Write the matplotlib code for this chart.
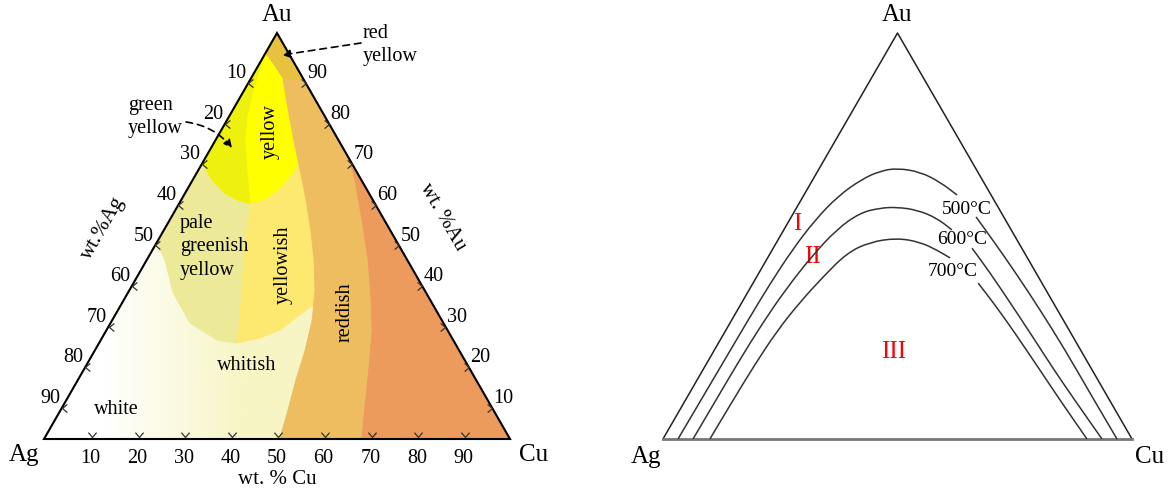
import numpy as np
import matplotlib.pyplot as plt
from matplotlib.patches import Polygon, PathPatch
from matplotlib.path import Path

plt.rcParams['font.family'] = ['Liberation Serif', 'DejaVu Serif']

# ---------------- left: colour of Ag-Au-Cu alloys, points as (wt.% Cu, wt.% Au)
reddish_cu = [7.1, 11.9, 16.8, 21.8, 26.8, 31.5, 35.9, 39.8, 42.9, 45.1, 46.8, 48.8, 50.6]
reddish_au = [88.4, 81.0, 73.6, 66.3, 58.9, 51.5, 44.1, 36.7, 29.3, 21.9, 14.5, 7.1, 0]
copper_cu = [31.3, 34.8, 41.3, 47.5, 53.1, 57.0, 61.2, 64.7, 68.2]
copper_au = [68.7, 63.8, 53.9, 44.1, 34.2, 26.8, 17.0, 8.4, 0]
redyel_cu = [0, 3.5, 6.8, 11.6]
redyel_au = [95.1, 92.0, 88.9, 88.4]
yellow_bot_cu = [0, 4.15, 8.5, 12.8, 15.15, 17.9, 19.7, 20.5, 20.6]
yellow_bot_au = [68.0, 63.8, 60.6, 58.6, 58.1, 59.1, 61.8, 65.5, 68.7]
greenyel_cu = [15.15, 10.4, 6.3, 3.7, 2.3, 1.05, 0]
greenyel_au = [58.1, 66.3, 73.6, 79.8, 84.7, 89.7, 94.6]
pale_bot_cu = [0, 3.9, 9.7, 17.0, 24.9, 29.6]
pale_bot_au = [48.3, 44.1, 36.0, 28.6, 24.4, 23.6]
split_cu = [29.6, 25.0, 20.65, 17.6, 15.15]
split_au = [23.6, 34.2, 44.1, 51.5, 58.1]
yelwish_bot_cu = [29.6, 33.9, 37.2, 40.85]
yelwish_bot_au = [23.6, 24.9, 26.8, 32.5]

tick_vals = [10, 20, 30, 40, 50, 60, 70, 80, 90]

# ---------------- right: miscibility gap boundaries (wt.% Cu, wt.% Au)
c500_l_cu = [3.2, 3.3, 3.4, 3.5, 3.7, 4.3, 5.45, 7.4, 10.4, 13.3, 16.55, 21.9, 27.4, 32.65]
c500_l_au = [0, 9.6, 19.2, 28.8, 38.2, 46.8, 53.9, 59.85, 64.0, 66.0, 66.7, 65.8, 63.3, 60.1]
c500_r_cu = [39.4, 46.6, 55.3, 64.5, 74.8, 85.9, 96.8]
c500_r_au = [54.7, 48.3, 40.4, 31.8, 21.9, 10.8, 0]
c600_l_cu = [6.4, 6.5, 6.6, 6.95, 7.75, 9.25, 11.25, 14.15, 17.85, 21.35, 26.0, 31.2, 35.85]
c600_l_au = [0, 9.6, 19.2, 28.3, 36.9, 45.1, 51.7, 55.7, 56.9, 57.1, 56.4, 54.4, 51.5]
c600_r_cu = [42.4, 49.3, 57.1, 66.0, 75.2, 84.3, 93.6]
c600_r_au = [47.0, 40.9, 33.7, 25.4, 16.7, 8.4, 0]
c700_l_cu = [10.0, 10.15, 10.4, 11.0, 12.35, 14.15, 16.3, 19.85, 25.15, 30.55, 35.1, 38.9]
c700_l_au = [0, 9.1, 18.0, 26.6, 33.7, 39.9, 45.8, 48.5, 49.5, 48.5, 46.55, 44.6]
c700_r_cu = [48.0, 54.3, 62.0, 71.1, 80.6, 90.4]
c700_r_au = [38.4, 33.0, 26.1, 17.7, 8.9, 0]


def tern(cu, au):
    cu = np.atleast_1d(np.asarray(cu, float))
    au = np.atleast_1d(np.asarray(au, float))
    return cu + au / 2, au


def region(ax, cu, au, color, z):
    x, y = tern(cu, au)
    ax.add_patch(Polygon(np.column_stack([x, y]), closed=True, fc=color, ec=color,
                         lw=0.6, zorder=z))


def smooth_line(ax, cu, au, **kw):
    # quadratic pieces through the mid points, so the drawn line has no corners
    x, y = tern(cu, au)
    p = np.column_stack([x, y])
    verts = [p[0], (p[0] + p[1]) / 2]
    codes = [Path.MOVETO, Path.LINETO]
    for i in range(1, len(p) - 1):
        verts += [p[i], (p[i] + p[i + 1]) / 2]
        codes += [Path.CURVE3, Path.CURVE3]
    verts.append(p[-1])
    codes.append(Path.LINETO)
    ax.add_patch(PathPatch(Path(verts, codes), fill=False, **kw))


def chev(angle, spread=40):
    a = np.deg2rad(angle + 180)
    s = np.deg2rad(spread)
    v = [(np.cos(a - s), np.sin(a - s)), (0, 0), (np.cos(a + s), np.sin(a + s))]
    return Path(v, [Path.MOVETO, Path.LINETO, Path.LINETO])


# pixel -> data helpers for text placement
def L(x, y):
    return (x - 44) / 4.66, (439 - y) / 4.06


def R(x, y):
    return (x - 663) / 4.69, (439 - y) / 4.06


fig = plt.figure(figsize=(11.72, 4.91), dpi=100)
ax1 = fig.add_axes([0, 0, 0.5, 1])
ax2 = fig.add_axes([0.5, 0, 0.5, 1])

# ================= left panel
tx, ty = tern([0, 100, 0], [0, 0, 100])
tri = np.column_stack([tx, ty])

ramp = np.clip((np.linspace(0, 100, 400) - 13) / 30, 0, 1)
c0 = np.array([1.0, 1.0, 1.0])
c1 = np.array([247, 245, 196]) / 255
img = (c0 + ramp[:, None] * (c1 - c0))[None, :, :]
im = ax1.imshow(img, extent=[0, 100, 0, 100], aspect='auto', zorder=1,
                interpolation='bilinear')
im.set_clip_path(Polygon(tri, closed=True, transform=ax1.transData))

# yellowish
region(ax1,
       yellow_bot_cu[4:] + [30, 44] + yelwish_bot_cu[::-1] + split_cu[1:4],
       yellow_bot_au[4:] + [66, 33] + yelwish_bot_au[::-1] + split_au[1:4],
       '#FDE96F', 2)
# pale greenish yellow
region(ax1,
       [0] + pale_bot_cu + split_cu[1:] + yellow_bot_cu[1:4][::-1],
       [68.0] + pale_bot_au + split_au[1:] + yellow_bot_au[1:4][::-1],
       '#ECEA98', 2)
# yellow
region(ax1, [0] + yellow_bot_cu + [31.3, 5],
       [95.1] + yellow_bot_au + [68.7, 95], '#FFFF00', 2.2)
# green yellow
region(ax1, [0] + yellow_bot_cu[:5] + greenyel_cu[1:],
       [94.6] + yellow_bot_au[:5] + greenyel_au[1:], '#EEF00E', 2.3)
# reddish
region(ax1, reddish_cu + [100, 5], reddish_au + [0, 95], '#EEBD5F', 3)
# copper red
region(ax1, copper_cu + [100], copper_au + [0], '#EC9B5C', 3.1)
# red yellow
region(ax1, [0] + redyel_cu, [100] + redyel_au, '#E8C23F', 3.2)

ax1.add_patch(Polygon(tri, closed=True, fill=False, ec='black', lw=1.5, zorder=5))

tv = np.array(tick_vals, float)
mk = dict(ls='none', ms=7, mfc='none', mec='#333333', mew=0.9, zorder=6)
x, y = tern(tv, np.full(9, 0.6))
ax1.plot(x, y, marker=chev(-90), **mk)
x, y = tern(np.zeros(9), 100 - tv - 2.3)
ax1.plot(x, y, marker=chev(180), **mk)
x, y = tern(100 - (tv - 2.3), tv - 2.3)
ax1.plot(x, y, marker=chev(0), **mk)

fs = 14.5
for v in tick_vals:
    ax1.text(v, -4.9, str(v), ha='center', va='center', fontsize=fs)
    ax1.text((100 - v) / 2 - 1.5, 100 - v, str(v), ha='right', va='center', fontsize=fs)
    ax1.text(100 - v / 2 + 1.5, v, str(v), ha='left', va='center', fontsize=fs)

ax1.text(*L(277, 15), 'Au', ha='center', va='center', fontsize=18)
ax1.text(*L(24, 455), 'Ag', ha='center', va='center', fontsize=18)
ax1.text(*L(534, 455), 'Cu', ha='center', va='center', fontsize=18)
ax1.text(*L(277, 480), 'wt. % Cu', ha='center', va='center', fontsize=15)
ax1.text(*L(103, 228), 'wt.%Ag', ha='center', va='center', fontsize=15, rotation=60)
ax1.text(*L(443, 217), 'wt. %Au', ha='center', va='center', fontsize=15, rotation=-60)

ls = 1.35
ax1.text(*L(270, 132), 'yellow', ha='center', va='center', fontsize=fs, rotation=90)
ax1.text(*L(283, 265), 'yellowish', ha='center', va='center', fontsize=fs, rotation=90)
ax1.text(*L(345, 312), 'reddish', ha='center', va='center', fontsize=fs, rotation=90)
ax1.text(*L(247, 366), 'whitish', ha='center', va='center', fontsize=fs)
ax1.text(*L(116, 409), 'white', ha='center', va='center', fontsize=fs)
ax1.text(*L(180, 247), 'pale\ngreenish\nyellow', ha='left', va='center', fontsize=fs,
         linespacing=ls)
ax1.text(*L(396, 384), 'copper\nred', ha='left', va='center', fontsize=fs, linespacing=ls)
ax1.text(*L(128, 117), 'green\nyellow', ha='left', va='center', fontsize=fs, linespacing=ls)
ax1.text(*L(363, 45), 'red\nyellow', ha='left', va='center', fontsize=fs, linespacing=ls)

ax1.annotate('', xy=L(282, 55), xytext=L(361, 43),
             arrowprops=dict(arrowstyle='-|>', color='black', lw=1.2, ls=(0, (4, 3)),
                             mutation_scale=12, shrinkA=0, shrinkB=0), zorder=7)
ax1.annotate('', xy=L(232, 148), xytext=L(186, 122),
             arrowprops=dict(arrowstyle='-|>', color='black', lw=1.2, ls=(0, (4, 3)),
                             mutation_scale=12, shrinkA=0, shrinkB=0,
                             connectionstyle='arc3,rad=-0.2'), zorder=7)

ax1.set_xlim(-44 / 4.66, 542 / 4.66)
ax1.set_ylim(-52 / 4.06, 439 / 4.06)
ax1.axis('off')

# ================= right panel
ax2.plot(tx[[0, 2, 1]], ty[[0, 2, 1]], color='#222222', lw=1.1, zorder=3)
ax2.plot(tx[:2], ty[:2], color='#777777', lw=2.0, zorder=3)
for cu, au in [(c500_l_cu, c500_l_au), (c500_r_cu, c500_r_au),
               (c600_l_cu, c600_l_au), (c600_r_cu, c600_r_au),
               (c700_l_cu, c700_l_au), (c700_r_cu, c700_r_au)]:
    smooth_line(ax2, cu, au, ec='#333333', lw=1.1, zorder=4)

ax2.text(*R(967, 209), '500°C', ha='center', va='center', fontsize=14)
ax2.text(*R(962, 240), '600°C', ha='center', va='center', fontsize=14)
ax2.text(*R(953, 272), '700°C', ha='center', va='center', fontsize=14)
ax2.text(*R(797, 224), 'I', ha='center', va='center', fontsize=18, color='red')
ax2.text(*R(812, 257), 'II', ha='center', va='center', fontsize=18, color='red')
ax2.text(*R(894, 352), 'III', ha='center', va='center', fontsize=18, color='red')
ax2.text(*R(897, 15), 'Au', ha='center', va='center', fontsize=18)
ax2.text(*R(646, 457), 'Ag', ha='center', va='center', fontsize=18)
ax2.text(*R(1150, 457), 'Cu', ha='center', va='center', fontsize=18)

ax2.set_xlim(-77 / 4.69, 509 / 4.69)
ax2.set_ylim(-52 / 4.06, 439 / 4.06)
ax2.axis('off')

fig.savefig('out.png', dpi=100)
